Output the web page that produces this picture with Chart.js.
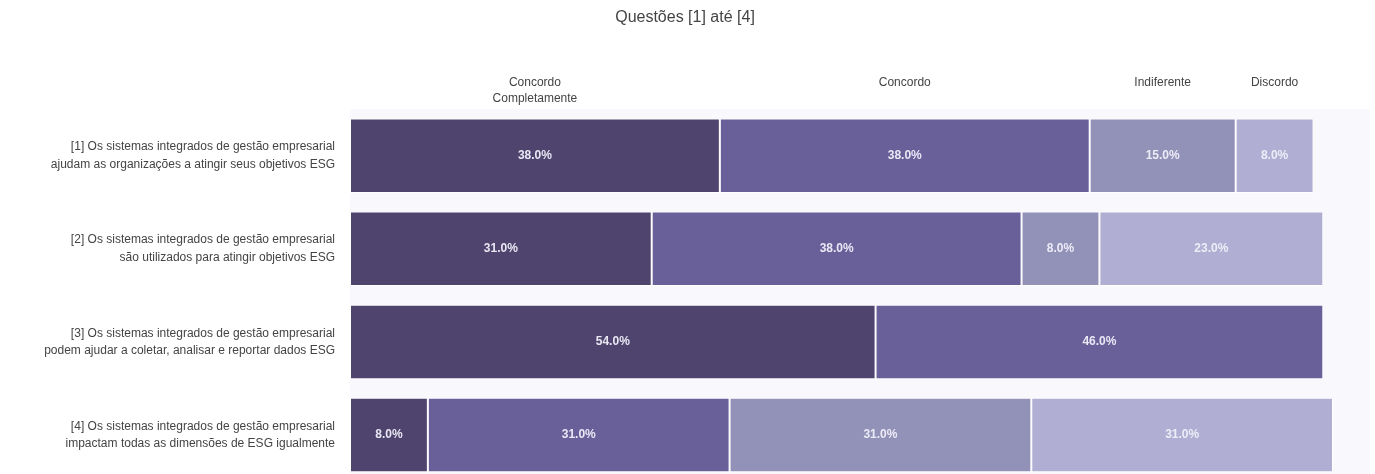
<!DOCTYPE html>
<html>
<head>
<meta charset="utf-8">
<script src="https://cdn.jsdelivr.net/npm/chart.js"></script>
<style>
  html, body { margin: 0; padding: 0; background: #fff; overflow: hidden; }
  canvas { display: block; }
</style>
</head>
<body>
<canvas id="myChart" width="1375" height="514"></canvas>
<script>
// questions (y categories), split in two lines like the original
const categories = [
  ['[1] Os sistemas integrados de gestão empresarial', 'ajudam as organizações a atingir seus objetivos ESG'],
  ['[2] Os sistemas integrados de gestão empresarial', 'são utilizados para atingir objetivos ESG'],
  ['[3] Os sistemas integrados de gestão empresarial', 'podem ajudar a coletar, analisar e reportar dados ESG'],
  ['[4] Os sistemas integrados de gestão empresarial', 'impactam todas as dimensões de ESG igualmente']
];

const seriesNames = [['Concordo', 'Completamente'], ['Concordo'], ['Indiferente'], ['Discordo']];

// percent of answers per question
const concordoCompletamente = [38, 31, 54, 8];
const concordo = [38, 38, 46, 31];
const indiferente = [15, 8, null, 31];
const discordo = [8, 23, null, 31];

const colors = ['#4f446e', '#695f99', '#9291b8', '#b0aed2'];

const seriesValues = [concordoCompletamente, concordo, indiferente, discordo];

const chartData = {
  labels: categories,
  datasets: seriesValues.map((vals, i) => ({
    label: seriesNames[i].join(' '),
    data: vals,
    backgroundColor: colors[i],
    borderColor: '#ffffff',
    borderWidth: 1,
    borderSkipped: false,
    barPercentage: 0.8,
    categoryPercentage: 1
  }))
};

// light plot background
const plotBg = {
  id: 'plotBg',
  beforeDraw(chart) {
    const { ctx, chartArea: a } = chart;
    ctx.save();
    ctx.fillStyle = '#f8f8fd';
    ctx.fillRect(a.left, a.top, a.right - a.left, a.bottom - a.top);
    ctx.restore();
  }
};

// value labels inside the segments + series names above first row
const barText = {
  id: 'barText',
  afterDatasetsDraw(chart) {
    const ctx = chart.ctx;
    ctx.save();
    ctx.textAlign = 'center';
    ctx.textBaseline = 'middle';
    chart.data.datasets.forEach((ds, i) => {
      const meta = chart.getDatasetMeta(i);
      meta.data.forEach((bar, j) => {
        const v = ds.data[j];
        if (v == null) return;
        const x = (bar.x + bar.base) / 2;
        ctx.font = 'bold 12px "Liberation Sans", Arial, sans-serif';
        ctx.fillStyle = 'rgba(240,240,250,0.95)';
        ctx.fillText(v.toFixed(1) + '%', x, bar.y);
      });
      // series name over the first question
      const first = meta.data[0];
      const cx = (first.x + first.base) / 2;
      ctx.font = '12px "Liberation Sans", Arial, sans-serif';
      ctx.fillStyle = '#444';
      seriesNames[i].forEach((line, k) => {
        ctx.fillText(line, cx, 83 + k * 16);
      });
    });
    ctx.restore();
  }
};

const canvas = document.getElementById('myChart');

const chart = new Chart(canvas, {
  type: 'bar',
  data: chartData,
  plugins: [plotBg, barText],
  options: {
    indexAxis: 'y',
    responsive: false,
    animation: false,
    layout: { padding: { top: 0, right: 5, bottom: 0, left: 0 } },
    plugins: {
      legend: { display: false },
      tooltip: { enabled: false },
      title: {
        display: true,
        text: 'Questões [1] até [4]',
        color: '#444',
        font: { size: 16, weight: 'normal', family: '"Liberation Sans", Arial, sans-serif' },
        padding: { top: 8, bottom: 82 }
      }
    },
    scales: {
      x: {
        stacked: true,
        display: false,
        min: 0,
        max: 104.8
      },
      y: {
        stacked: true,
        grid: { display: false, drawTicks: false },
        border: { display: false },
        afterFit(scale) { scale.width = 350; },
        ticks: {
          padding: 15,
          color: '#444',
          font: { size: 12, family: '"Liberation Sans", Arial, sans-serif', lineHeight: 1.45 }
        }
      }
    }
  }
});
</script>
</body>
</html>
